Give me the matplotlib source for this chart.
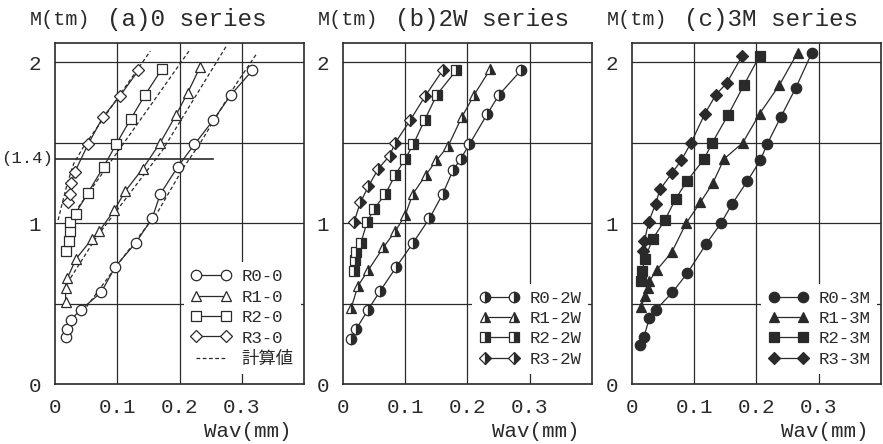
import matplotlib
matplotlib.use('Agg')
import matplotlib.pyplot as plt
import matplotlib.transforms as mtransforms

plt.rcParams['font.family'] = ['Liberation Mono', 'Noto Sans CJK JP']

# ---- (a) 0 series ----
a_r0_x = [0.017, 0.020, 0.025, 0.041, 0.074, 0.097, 0.130, 0.156, 0.169, 0.197, 0.224, 0.254, 0.283, 0.317]
a_r0_y = [0.29, 0.34, 0.40, 0.46, 0.57, 0.73, 0.88, 1.03, 1.18, 1.35, 1.49, 1.64, 1.80, 1.95]
a_r1_x = [0.017, 0.017, 0.020, 0.034, 0.059, 0.071, 0.095, 0.113, 0.141, 0.169, 0.194, 0.213, 0.233]
a_r1_y = [0.51, 0.60, 0.66, 0.78, 0.90, 0.95, 1.08, 1.20, 1.34, 1.50, 1.67, 1.81, 1.97]
a_r2_x = [0.017, 0.023, 0.024, 0.024, 0.033, 0.053, 0.078, 0.098, 0.122, 0.145, 0.172]
a_r2_y = [0.83, 0.89, 0.95, 1.01, 1.06, 1.19, 1.35, 1.49, 1.65, 1.80, 1.96]
a_r3_x = [0.021, 0.024, 0.026, 0.032, 0.053, 0.077, 0.104, 0.134]
a_r3_y = [1.13, 1.18, 1.25, 1.32, 1.49, 1.66, 1.79, 1.95]

# calculated values (dashed)
calc1_x = [0.005, 0.012, 0.020, 0.030, 0.045, 0.153]
calc1_y = [1.02, 1.13, 1.25, 1.37, 1.47, 2.07]
calc2_x = [0.022, 0.034, 0.098, 0.175, 0.217]
calc2_y = [1.00, 1.08, 1.43, 1.85, 2.08]
calc3_x = [0.025, 0.066, 0.172, 0.275]
calc3_y = [0.66, 0.91, 1.45, 2.10]
calc4_x = [0.045, 0.100, 0.165, 0.207, 0.232, 0.290, 0.325]
calc4_y = [0.45, 0.74, 1.07, 1.35, 1.49, 1.86, 2.06]

# ---- (b) 2W series ----
b_r0_x = [0.013, 0.021, 0.040, 0.060, 0.086, 0.113, 0.139, 0.160, 0.177, 0.189, 0.203, 0.232, 0.251, 0.286]
b_r0_y = [0.28, 0.34, 0.46, 0.58, 0.73, 0.88, 1.03, 1.18, 1.33, 1.40, 1.49, 1.68, 1.80, 1.95]
b_r1_x = [0.013, 0.024, 0.041, 0.065, 0.084, 0.100, 0.112, 0.133, 0.150, 0.169, 0.191, 0.211, 0.237]
b_r1_y = [0.47, 0.61, 0.71, 0.85, 0.95, 1.05, 1.18, 1.30, 1.39, 1.48, 1.66, 1.80, 1.96]
b_r2_x = [0.017, 0.020, 0.021, 0.029, 0.039, 0.050, 0.068, 0.084, 0.100, 0.113, 0.131, 0.151, 0.182]
b_r2_y = [0.70, 0.77, 0.82, 0.88, 1.01, 1.09, 1.18, 1.30, 1.40, 1.49, 1.64, 1.80, 1.95]
b_r3_x = [0.018, 0.028, 0.041, 0.057, 0.075, 0.084, 0.108, 0.132, 0.160]
b_r3_y = [1.01, 1.13, 1.23, 1.34, 1.42, 1.50, 1.64, 1.79, 1.95]

# ---- (c) 3M series ----
c_r0_x = [0.013, 0.019, 0.028, 0.038, 0.065, 0.089, 0.119, 0.143, 0.161, 0.185, 0.206, 0.217, 0.239, 0.263, 0.289]
c_r0_y = [0.24, 0.29, 0.41, 0.46, 0.57, 0.69, 0.87, 1.00, 1.12, 1.26, 1.39, 1.49, 1.66, 1.84, 2.06]
c_r1_x = [0.015, 0.021, 0.026, 0.028, 0.040, 0.064, 0.087, 0.110, 0.130, 0.148, 0.178, 0.205, 0.237, 0.266]
c_r1_y = [0.48, 0.55, 0.60, 0.64, 0.71, 0.82, 1.00, 1.13, 1.25, 1.40, 1.50, 1.68, 1.86, 2.06]
c_r2_x = [0.015, 0.016, 0.021, 0.033, 0.053, 0.070, 0.088, 0.116, 0.129, 0.154, 0.180, 0.205]
c_r2_y = [0.64, 0.70, 0.78, 0.90, 1.02, 1.15, 1.26, 1.40, 1.50, 1.67, 1.86, 2.04]
c_r3_x = [0.018, 0.020, 0.027, 0.038, 0.045, 0.064, 0.079, 0.095, 0.117, 0.135, 0.152, 0.177]
c_r3_y = [0.83, 0.89, 1.01, 1.12, 1.21, 1.31, 1.39, 1.50, 1.68, 1.80, 1.87, 2.04]

titles = ['(a)0 series', '(b)2W series', '(c)3M series']
x_ticks = [0, 0.1, 0.2, 0.3]
x_ticklabels = ['0', '0.1', '0.2', '0.3']
y_ticks = [0, 1, 2]
grid_y = [0.5, 1, 1.5, 2]
grid_x = [0.1, 0.2, 0.3]

INK = '#2a2a2a'
markers = ['o', '^', 's', 'D']
msizes = [7.5, 7.5, 7, 6.5]

panels = [
    (titles[0], [(a_r0_x, a_r0_y, 'R0-0'), (a_r1_x, a_r1_y, 'R1-0'),
                 (a_r2_x, a_r2_y, 'R2-0'), (a_r3_x, a_r3_y, 'R3-0')], 'none'),
    (titles[1], [(b_r0_x, b_r0_y, 'R0-2W'), (b_r1_x, b_r1_y, 'R1-2W'),
                 (b_r2_x, b_r2_y, 'R2-2W'), (b_r3_x, b_r3_y, 'R3-2W')], 'right'),
    (titles[2], [(c_r0_x, c_r0_y, 'R0-3M'), (c_r1_x, c_r1_y, 'R1-3M'),
                 (c_r2_x, c_r2_y, 'R2-3M'), (c_r3_x, c_r3_y, 'R3-3M')], 'full'),
]

fig = plt.figure(figsize=(8.83, 4.44), dpi=100)
lefts = [0.0623, 0.3884, 0.7157]

for i, (title, series, fill) in enumerate(panels):
    ax = fig.add_axes([lefts[i], 0.135, 0.282, 0.768])
    ax.set_xlim(0, 0.4)
    ax.set_ylim(0, 2.12)
    for gx in grid_x:
        ax.axvline(gx, color=INK, lw=0.9, zorder=0)
    for gy in grid_y:
        ax.axhline(gy, color=INK, lw=0.9, zorder=0)

    for k, (xs, ys, lab) in enumerate(series):
        if fill == 'none':
            kw = dict(mfc='white', mec=INK, fillstyle='full')
        elif fill == 'right':
            kw = dict(mfc=INK, mfcalt='white', mec=INK, fillstyle='right')
        else:
            kw = dict(mfc=INK, mec=INK, fillstyle='full')
        ax.plot(xs, ys, color=INK, lw=0.9, marker=markers[k], ms=msizes[k],
                mew=0.9, label=lab, zorder=3, **kw)

    if i == 0:
        for j, (cx, cy) in enumerate([(calc1_x, calc1_y), (calc2_x, calc2_y),
                                      (calc3_x, calc3_y), (calc4_x, calc4_y)]):
            ax.plot(cx, cy, color=INK, lw=0.9, ls=(0, (3, 2)), zorder=2,
                    label='計算値' if j == 0 else None)
        ax.plot([0, 0.254], [1.4, 1.4], color=INK, lw=1.2, zorder=1)
        trans = mtransforms.blended_transform_factory(ax.transAxes, ax.transData)
        ax.text(-0.01, 1.4, '(1.4)', transform=trans, ha='right', va='center',
                fontsize=12.5, color=INK)

    ax.set_xticks(x_ticks)
    ax.set_xticklabels(x_ticklabels)
    ax.set_yticks(y_ticks)
    ax.set_yticklabels([str(v) for v in y_ticks])
    ax.tick_params(length=0, labelsize=15, colors=INK, pad=10)
    ax.tick_params(axis='y', pad=10)
    for sp in ax.spines.values():
        sp.set_color(INK)
        sp.set_linewidth(1.2)

    ax.set_xlabel('Wav(mm)', loc='right', fontsize=15, color=INK)
    ax.xaxis.set_label_coords(0.95, -0.11)

    ax.text(-0.1, 1.068, 'M(tm)', transform=ax.transAxes, ha='left', va='center',
            fontsize=14.5, color=INK)
    ax.text(0.21, 1.068, title, transform=ax.transAxes, ha='left', va='center',
            fontsize=17.5, color=INK)

    leg = ax.legend(loc='lower right', bbox_to_anchor=(1.0, 0.02), numpoints=2,
                    fontsize=12.5, frameon=True, framealpha=1, facecolor='white',
                    edgecolor='none', handlelength=2.3, handletextpad=0.6,
                    labelspacing=0.3, borderpad=0.4, borderaxespad=0.2)
    leg.set_zorder(5)
    for t in leg.get_texts():
        t.set_color(INK)

fig.savefig('out.png', dpi=100, facecolor='white')
